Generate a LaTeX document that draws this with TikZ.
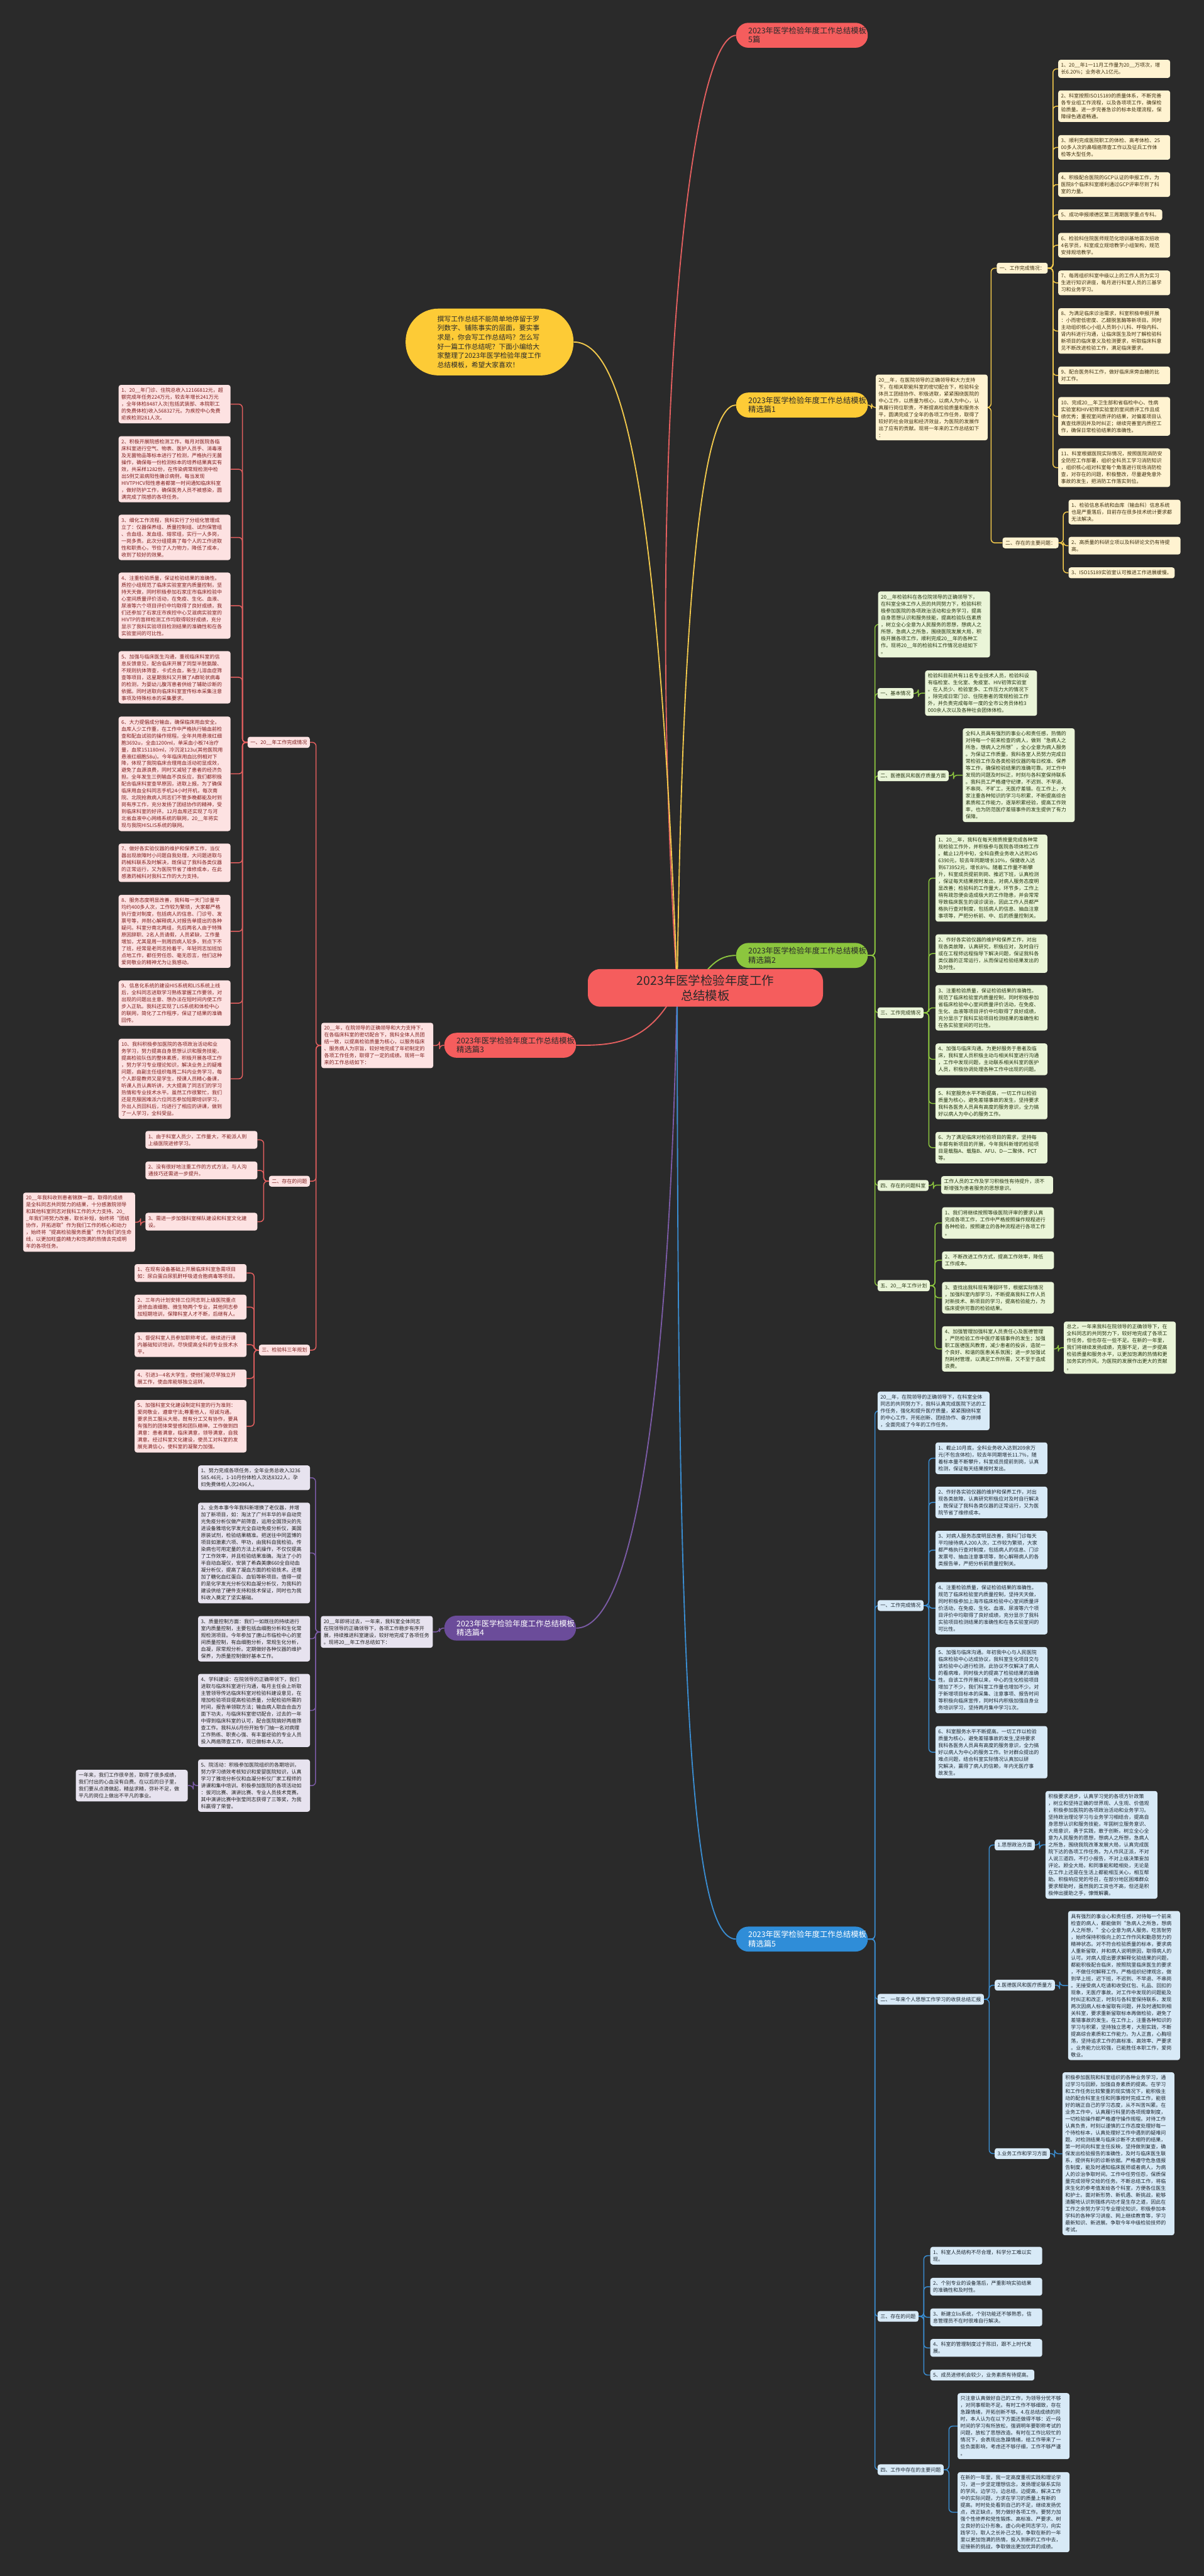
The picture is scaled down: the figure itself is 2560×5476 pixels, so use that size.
\documentclass[tikz,border=0pt]{standalone}
\usepackage{fontspec}
\setmainfont{Noto Sans CJK SC}
\pgfdeclarelayer{bgl}\pgfdeclarelayer{lnl}\pgfsetlayers{bgl,lnl,main}
\definecolor{bgc}{HTML}{2A2A2A}
\definecolor{cred}{HTML}{F55D5D}
\definecolor{cyel}{HTML}{FDCB36}
\definecolor{cgrn}{HTML}{8CC63E}
\definecolor{cpur}{HTML}{6B4C9A}
\definecolor{cblu}{HTML}{2F8DD8}
\definecolor{lred}{HTML}{E35F5F}
\definecolor{lyel}{HTML}{F2C94C}
\definecolor{lgrn}{HTML}{8DC63F}
\definecolor{lpur}{HTML}{7B5BA6}
\definecolor{lblu}{HTML}{3A8DD1}
\definecolor{fyel}{HTML}{FFF3D1}
\definecolor{tyel}{HTML}{3D3010}
\definecolor{fgrn}{HTML}{EAF5D8}
\definecolor{tgrn}{HTML}{24330F}
\definecolor{fred}{HTML}{FDE2E2}
\definecolor{tred}{HTML}{7E1D1D}
\definecolor{fpur}{HTML}{E7E3EF}
\definecolor{tpur}{HTML}{222222}
\definecolor{fblu}{HTML}{D8EAF7}
\definecolor{tblu}{HTML}{1C2630}
\definecolor{tdark}{HTML}{2A2A2A}
\newcommand\fsb{\fontsize{10.7}{14.7}\selectfont}
\newcommand\fsp{\fontsize{16.5}{19}\selectfont}
\tikzset{
 bx/.style={rounded corners=5pt, inner xsep=6pt, inner ysep=6.5pt, align=left, font=\fsb},
 tb/.style={bx, text width=226pt, anchor=north west},
 lab/.style={bx},
 bxY/.style={fill=fyel, text=tyel},
 bxG/.style={fill=fgrn, text=tgrn},
 bxR/.style={fill=fred, text=tred},
 bxP/.style={fill=fpur, text=tpur},
 bxB/.style={fill=fblu, text=tblu},
 pill/.style={rounded corners=26pt, minimum height=53pt, inner xsep=26pt, inner ysep=8pt, align=left, font=\fsp, text width=228pt},
 lnY/.style={draw=lyel, line width=2pt, rounded corners=8pt},
 lnG/.style={draw=lgrn, line width=2pt, rounded corners=8pt},
 lnR/.style={draw=lred, line width=2pt, rounded corners=8pt},
 lnP/.style={draw=lpur, line width=2pt, rounded corners=8pt},
 lnB/.style={draw=lblu, line width=2pt, rounded corners=8pt},
}
\begin{document}
\begin{tikzpicture}[x=1pt,y=-1pt]
\useasboundingbox (0,0) rectangle (2560,5476);
\begin{pgfonlayer}{bgl}\fill[bgc] (0,0) rectangle (2560,5476);\end{pgfonlayer}

% ---------- root and main branches ----------
\node[fill=cred, text=tdark, rounded corners=26pt, minimum width=500pt, minimum height=80pt, align=center, font=\fontsize{26}{32}\selectfont] (root) at (1500,2100) {2023年医学检验年度工作\\总结模板};
\coordinate (rootc) at (1440,2100);
\node[pill, fill=cred, text=tdark, anchor=west] (p5) at (1565,75) {2023年医学检验年度工作总结模板\\5篇};
\node[pill, fill=cyel, text=tdark, anchor=west] (p1) at (1565,861) {2023年医学检验年度工作总结模板\\精选篇1};
\node[pill, fill=cgrn, text=tdark, anchor=west] (p2) at (1565,2031) {2023年医学检验年度工作总结模板\\精选篇2};
\node[pill, fill=cred, text=tdark, anchor=east] (p3) at (1225,2222) {2023年医学检验年度工作总结模板\\精选篇3};
\node[pill, fill=cpur, text=white, anchor=east] (p4) at (1225,3461) {2023年医学检验年度工作总结模板\\精选篇4};
\node[pill, fill=cblu, text=white, anchor=west] (p6) at (1565,4122) {2023年医学检验年度工作总结模板\\精选篇5};
\node[fill=cyel, text=tdark, rounded corners=70pt, minimum width=357pt, minimum height=142pt, text width=222pt, align=left, font=\fontsize{14.5}{19.5}\selectfont] (bub) at (1041,727) {撰写工作总结不能简单地停留于罗\\列数字、铺陈事实的层面，要实事\\求是，你会写工作总结吗？怎么写\\好一篇工作总结呢？下面小编给大\\家整理了2023年医学检验年度工作\\总结模板，希望大家喜欢！};

% ---------- yellow branch (精选篇1) ----------
\node[tb,bxY] (yi) at (1862,796) {20\_\_年，在医院领导的正确领导和大力支持\\下，在相关职能科室的密切配合下，检验科全\\体员工团结协作、积极进取，紧紧围绕医院的\\中心工作，以质量为核心，以病人为中心，认\\真履行岗位职责，不断提高检验质量和服务水\\平，圆满完成了全年的各项工作任务，取得了\\较好的社会效益和经济效益，为医院的发展作\\出了应有的贡献。现将一年来的工作总结如下\\：};
\node[lab,bxY,anchor=east] (yl1) at (2228,570) {一、工作完成情况：};
\node[lab,bxY,anchor=east] (yl2) at (2251,1154) {二、存在的主要问题：};
\node[tb,bxY] (y1) at (2250,127) {1、20\_\_年1一11月工作量为20\_\_万项次，增\\长6.20\%；业务收入1亿元。};
\node[tb,bxY] (y2) at (2250,192) {2、科室按照ISO15189的质量体系，不断完善\\各专业组工作流程，以及各项项工作，确保检\\验质量。进一步完善急诊的标本处理流程，保\\障绿色通道畅通。};
\node[tb,bxY] (y3) at (2250,287) {3、顺利完成医院职工的体检、高考体检、25\\00多人次的鼻咽癌筛查工作以及征兵工作体\\检等大型任务。};
\node[tb,bxY] (y4) at (2250,366) {4、积极配合医院的GCP认证的申报工作，为\\医院8个临床科室顺利通过GCP评审尽到了科\\室的力量。};
\node[lab,bxY,anchor=north west] (y5) at (2250,445) {5、成功申报顺德区第三周期医学重点专科。};
\node[tb,bxY] (y6) at (2250,495) {6、检验科住院医师规范化培训基地首次招收\\4名学员，科室成立规培教学小组架构，规范\\安排规培教学。};
\node[tb,bxY] (y7) at (2250,575) {7、每周组织科室中级以上的工作人员为实习\\生进行知识讲座，每月进行科室人员的三基学\\习和业务学习。};
\node[tb,bxY] (y8) at (2250,655) {8、为满足临床诊治需求，科室积极申报开展\\：小而密低密度、乙醛脱氢酶等新项目。同时\\主动组织核心小组人员到小儿科、呼吸内科、\\肾内科进行沟通，让临床医生及时了解检验科\\新项目的临床意义及检测要求，听取临床科意\\见不断改进检验工作，满足临床要求。};
\node[tb,bxY] (y9) at (2250,779) {9、配合医务科工作，做好临床床旁血糖的比\\对工作。};
\node[tb,bxY] (y10) at (2250,844) {10、完成20\_\_年卫生部和省临检中心、性病\\实验室和HIV初筛实验室的室间质评工作且成\\绩优秀；重视室间质评的结果，对偏差项目认\\真查找原因并及时纠正；继续完善室内质控工\\作，确保日常检验结果的准确性。};
\node[tb,bxY] (y11) at (2250,953) {11、科室根据医院实际情况，按照医院消防安\\全防控工作部署，组织全科员工学习消防知识\\，组织核心组对科室每个角落进行现场消防检\\查，对存在的问题，积极整改，尽量避免意外\\事故的发生，把消防工作落实到位。};
\node[tb,bxY] (yq1) at (2272,1062) {1、检验信息系统和血库（输血科）信息系统\\也是严重落后，目前存在很多技术统计要求都\\无法解决。};
\node[tb,bxY] (yq2) at (2272,1141) {2、高质量的科研立项以及科研论文仍有待提\\高。};
\node[lab,bxY,anchor=north west] (yq3) at (2272,1206) {3、ISO15189实验室认可推进工作进展缓慢。};

% ---------- green branch (精选篇2) ----------
\node[tb,bxG] (gi) at (1867,1257) {20\_\_年检验科在各位院领导的正确领导下，\\在科室全体工作人员的共同努力下，检验科积\\极参加医院的各项政治活动和业务学习，提高\\自身思想认识和服务技能，提高检验队伍素质\\，树立全心全意为人民服务的思想，想病人之\\所想，急病人之所急，围绕医院发展大局，积\\极开展各项工作，顺利完成20\_\_年的各种工\\作。现将20\_\_年的检验科工作情况总结如下\\。};
\node[lab,bxG,anchor=west] (gl1) at (1866,1474) {一、基本情况};
\node[tb,bxG] (gc1) at (1967,1425) {检验科目前共有11名专业技术人员，检验科设\\有临检室、生化室、免疫室、HIV初筛实验室\\。在人员少、检验室多、工作压力大的情况下\\，除完成日常门诊、住院患者的常规检验工作\\外，并负责完成每年一度的全市公务员体检3\\000余人次以及各种社会团体体检。};
\node[lab,bxG,anchor=west] (gl2) at (1866,1649) {二、医德医风和医疗质量方面};
\node[tb,bxG] (gc2) at (2047,1548) {全科人员具有强烈的事业心和责任感，热情的\\对待每一个前来检查的病人，做到“急病人之\\所急，想病人之所想”，全心全意为病人服务\\。为保证工作质量，我科各室人员努力完成日\\常检验工作及各类检验仪器的每日校准、保养\\等工作，确保检验结果的准确可靠。对工作中\\发现的问题及时纠正，时刻与各科室保持联系\\。我科员工严格遵守纪律，不迟到、不早退、\\不串岗、不旷工，无医疗差错。在工作上，大\\家注重各种知识的学习与积累，不断提高综合\\素质和工作能力，逐渐积累经验，提高工作效\\率，也为防范医疗差错事件的发生提供了有力\\保障。};
\node[lab,bxG,anchor=west] (gl3) at (1866,2153) {三、工作完成情况};
\node[tb,bxG] (g1) at (1989,1774) {1、20\_\_年，我科在每天按质按量完成各种常\\规检验工作外，并积极参与医院各项体检工作\\。截止12月中旬，全科自费业务收入达到245\\6390元，较去年同期增长10\%，保健收入达\\到673952元，增长8\%。随着工作量不断攀\\升，科室成员提前到岗、推迟下班，认真检测\\，保证每天结果按时发出，对病人服务态度明\\显改善；检验科的工作量大，环节多，工作上\\稍有疏忽便会造成极大的工作隐患，并会常常\\导致临床医生的误诊误治，因此工作人员都严\\格执行查对制度，包括病人的信息、抽血注意\\事项等，严把分析前、中、后的质量控制关。};
\node[tb,bxG] (g2) at (1989,1986) {2、作好各实验仪器的维护和保养工作，对出\\现各类故障，认真研究，积极应对，及时自行\\或在工程师远程指导下解决问题，保证我科各\\类仪器的正常运行，从而保证检验结果发出的\\及时性。};
\node[tb,bxG] (g3) at (1989,2094) {3、注重检验质量，保证检验结果的准确性。\\规范了临床检验室内质量控制，同时积极参加\\省临床检验中心室间质量评价活动，在免疫、\\生化、血液等项目评价中均取得了良好成绩，\\充分显示了我科实验项目检测结果的准确性和\\在各实验室间的可比性。};
\node[tb,bxG] (g4) at (1989,2218) {4、加强与临床沟通。为更好服务于患者及临\\床，我科室人员积极主动与相关科室进行沟通\\，工作中发现问题，主动联系相关科室的医护\\人员，积极协调处理各种工作中出现的问题。};
\node[tb,bxG] (g5) at (1989,2312) {5、科室服务水平不断提高，一切工作以检验\\质量为核心，避免差错事故的发生，坚持要求\\我科各医务人员具有高度的服务意识，全力搞\\好以病人为中心的服务工作。};
\node[tb,bxG] (g6) at (1989,2406) {6、为了满足临床对检验项目的需求，坚持每\\年都有新项目的开展，今年我科新增的检验项\\目是载脂A、载脂B、AFU、D—二聚体、PCT\\等。};
\node[lab,bxG,anchor=west] (gl4) at (1866,2520) {四、存在的问题科室};
\node[tb,bxG] (gc4) at (2001,2500) {工作人员的工作及学习积极性有待提升，须不\\断增强为患者服务的思想意识。};
\node[lab,bxG,anchor=west] (gl5) at (1866,2733) {五、20\_\_年工作计划};
\node[tb,bxG] (h1) at (2003,2566) {1、我们将继续按照等级医院评审的要求认真\\完成各项工作，工作中严格按照操作规程进行\\各种检验，按照建立的各种流程进行各项工作\\。};
\node[tb,bxG] (h2) at (2003,2660) {2、不断改进工作方式，提高工作效率，降低\\工作成本。};
\node[tb,bxG] (h3) at (2003,2725) {3、查找出我科现有薄弱环节，根据实际情况\\，加强科室内部学习，不断提高我科工作人员\\对新技术、新项目的学习，提高检验能力，为\\临床提供可靠的检验结果。};
\node[tb,bxG] (h4) at (2003,2819) {4、加强管理加强科室人员责任心及医德管理\\，严防检验工作中医疗差错事件的发生；加强\\职工医德医风教育，减少患者的投诉，造就一\\个良好、和谐的医患关系氛围；进一步加强试\\剂耗材管理，以满足工作所需，又不至于造成\\浪费。};
\node[tb,bxG] (gx) at (2262,2809) {总之，一年来我科在院领导的正确领导下，在\\全科同志的共同努力下，较好地完成了各项工\\作任务，但也存在一些不足。在新的一年里，\\我们将继续发扬成绩，克服不足，进一步提高\\检验质量和服务水平，以更加饱满的热情和更\\加务实的作风，为医院的发展作出更大的贡献\\。};

% ---------- red left branch (精选篇3) ----------
\node[tb,bxR] (ri) at (683,2174) {20\_\_年，在院领导的正确领导和大力支持下，\\在各临床科室的密切配合下，我科全体人员团\\结一致，以提高检验质量为核心，以服务临床\\、服务病人为宗旨，较好地完成了年初制定的\\各项工作任务，取得了一定的成绩。现将一年\\来的工作总结如下：};
\node[lab,bxR,anchor=east] (rl1) at (659,1578) {一、20\_\_年工作完成情况};
\node[tb,bxR] (r1) at (252,818) {1、20\_\_年门诊、住院总收入12166812元，超\\额完成年任务224万元，较去年增长241万元\\，全年体检8487人次(包括武装部、本院职工\\的免费体检)收入568327元。为疾控中心免费\\疟疾检测281人次。};
\node[tb,bxR] (r2) at (252,927) {2、积极开展院感检测工作。每月对医院各临\\床科室进行空气、物表、医护人员手、消毒液\\及无菌物品等标本进行了检测，严格执行无菌\\操作，确保每一份检测标本的培养结果真实有\\效，共采样1282份，在传染病常规检测中检\\出5例艾滋病阳性确诊病例，每当发现\\HIVTPHCV阳性患者都第一时间通知临床科室\\，做好防护工作，确保医务人员不被感染，圆\\满完成了院感的各项任务。};
\node[tb,bxR] (r3) at (252,1094) {3、细化工作流程，我科实行了分组化管理成\\立了：仪器保养组、质量控制组、试剂保管组\\、合血组、发血组、熔浆组，实行一人多岗，\\一岗多责。此次分组提高了每个人的工作进取\\性和职责心，节俭了人力物力，降低了成本，\\收到了较好的效果。};
\node[tb,bxR] (r4) at (252,1217) {4、注重检验质量，保证检验结果的准确性。\\质控小组规范了临床实验室室内质量控制，坚\\持天天做，同时积极参加石家庄市临床检验中\\心室间质量评价活动，在免疫、生化、血液、\\尿液等六个项目评价中均取得了良好成绩，我\\们还参加了石家庄市疾控中心艾滋病实验室的\\HIVTP的盲样检测工作均取得较好成绩，充分\\显示了我科实验项目检测结果的准确性和在各\\实验室间的可比性。};
\node[tb,bxR] (r5) at (252,1384) {5、加强与临床医生沟通，重视临床科室的信\\息反馈意见，配合临床开展了同型半胱氨酸、\\不规则抗体筛查，卡式合血，新生儿溶血症筛\\查等项目，这星期我科又开展了A群轮状病毒\\的检测，为婴幼儿腹泻患者供给了辅助诊断的\\依据。同时进取向临床科室宣传标本采集注意\\事项及特殊标本的采集要求。};
\node[tb,bxR] (r6) at (252,1523) {6、大力提倡成分输血，确保临床用血安全。\\血库人少工作重，在工作中严格执行输血前检\\查和配血试验的操作规程。全年共用悬液红细\\胞3692u，全血1200ml，单采血小板74治疗\\量，血浆151180ml，冷沉淀123u(其他医院用\\悬液红细胞58u)。今年临床用血比例相对下\\降，体现了我院临床合理用血活动初显成效，\\避免了血源浪费，同时又减轻了患者的经济负\\担。全年发生三例输血不良反应，我们都积极\\配合临床科室查早原因，进取上报。为了确保\\临床用血全科同志手机24小时开机，每次南\\院、北院抢救病人同志们不管多晚都能及时到\\岗有序工作，充分发扬了团结协作的精神，受\\到临床科室的好评。12月血库还实现了与河\\北省血液中心网络系统的联网，20\_\_年将实\\现与我院HISLIS系统的联网。};
\node[tb,bxR] (r7) at (252,1793) {7、做好各实验仪器的维护和保养工作，当仪\\器出现故障时小问题自我处理，大问题进取与\\药械科联系及时解决，既保证了我科各类仪器\\的正常运行，又为医院节省了维修成本，在此\\感激药械科对我科工作的大力支持。};
\node[tb,bxR] (r8) at (252,1902) {8、服务态度明显改善，我科每一天门诊量平\\均约400多人次，工作较为繁琐，大家都严格\\执行查对制度，包括病人的信息、门诊号、发\\票号等，并耐心解释病人对报告单提出的各种\\疑问。科室分南北两组，先后两名人由于特殊\\原因辞职、2名人员请假，人员紧缺，工作量\\增加，尤其是周一到周四病人较多，到点下不\\了班，经常是老同志抢着干，年轻同志加班加\\点地工作，都任劳任怨、毫无怨言，他们这种\\爱岗敬业的精神尤为让我感动。};
\node[tb,bxR] (r9) at (252,2084) {9、信息化系统的建设HIS系统和LIS系统上线\\后，全科同志进取学习熟练掌握工作要领，对\\出现的问题出主意、想办法在短时间内使工作\\步入正轨。我科还实现了LIS系统和体检中心\\的联网，简化了工作程序，保证了结果的准确\\回传。};
\node[tb,bxR] (r10) at (252,2208) {10、我科积极参加医院的各项政治活动和业\\务学习，努力提高自身思想认识和服务技能，\\提高检验队伍的整体素质，积极开展各项工作\\，努力学习专业理论知识，解决业务上的疑难\\问题，由副主任组织每周二科内业务学习，每\\个人即是教师又是学生，授课人员精心备课，\\听课人员认真听讲，大大提高了同志们的学习\\热情和专业技术水平。虽然工作很繁忙，我们\\还是克服困难派六位同志参加短期培训学习，\\外出人员回科后，均进行了相应的讲课，做到\\了一人学习，全科受益。};
\node[lab,bxR,anchor=east] (rl2) at (659,2511) {二、存在的问题};
\node[tb,bxR] (s1) at (309,2404) {1、由于科室人员少，工作量大，不能派人到\\上级医院进修学习。};
\node[tb,bxR] (s2) at (309,2469) {2、没有很好地注重工作的方式方法，与人沟\\通技巧还需进一步提升。};
\node[tb,bxR] (s3) at (309,2578) {3、需进一步加强科室梯队建设和科室文化建\\设。};
\node[tb,bxR] (rbox) at (49,2535) {20\_\_年我科收到患者锦旗一面，取得的成绩\\是全科同志共同努力的结果，十分感激院领导\\和其他科室同志对我科工作的大力支持。20\_\\\_年我们将努力改善，取长补短，始终将“团结\\协作，开拓进取”作为我们工作的核心和动力\\，始终将“提高检验服务质量”作为我们的生命\\线，以更加旺盛的精力和饱满的热情去完成明\\年的各项任务。};
\node[lab,bxR,anchor=east] (rl3) at (659,2870) {三、检验科三年规划};
\node[tb,bxR] (t1) at (286,2687) {1、在现有设备基础上开展临床科室急需项目\\如：尿白蛋白尿肌酐呼吸道合胞病毒等项目。};
\node[tb,bxR] (t2) at (286,2752) {2、三年内计划安排三位同志到上级医院重点\\进修血液细胞、微生物两个专业，其他同志参\\加短期培训，保障科室人才不断，后继有人。};
\node[tb,bxR] (t3) at (286,2832) {3、督促科室人员参加职称考试，继续进行课\\内基础知识培训，尽快提高全科的专业技术水\\平。};
\node[tb,bxR] (t4) at (286,2911) {4、引进3—4名大学生，使他们能尽早独立开\\展工作，使血库能够独立运转。};
\node[tb,bxR] (t5) at (286,2976) {5、加强科室文化建设制定科室的行为准则：\\爱岗敬业，遵章守法;尊重他人，坦诚沟通。\\要求员工服从大局，既有分工又有协作，要具\\有强烈的团体荣誉感和团队精神。工作做到四\\满意：患者满意，临床满意，领导满意，自我\\满意。经过科室文化建设，使员工对科室的发\\展充满信心，使科室的凝聚力加强。};

% ---------- purple branch (精选篇4) ----------
\node[tb,bxP] (vi) at (682,3435) {20\_\_年即将过去，一年来，我科室全体同志\\在院领导的正确领导下，各项工作稳步有序开\\展，持续推进科室建设，较好地完成了各项任务\\。现将20\_\_年工作总结如下：};
\node[tb,bxP] (v1) at (421,3115) {1、努力完成各项任务，全年业务总收入3236\\585.46元，1-10月份体检人次达8322人，孕\\妇免费体检人次2496人。};
\node[tb,bxP] (v2) at (421,3194) {2、业务本事今年我科新增换了老仪器，并增\\加了新项目，如：淘汰了广州丰华的半自动荧\\光免疫分析仪做产前筛查，运用全国顶尖的先\\进设备雅培化学发光全自动免疫分析仪，美国\\原装试剂，检验结果精准。把送往中同蓝博的\\项目如激素六项、甲功，由我科自我检验。传\\染病也可用定量的方法上机操作，不仅仅提高\\了工作效率，并且检验结果准确。淘汰了小的\\半自动血凝仪，安装了希森美康660全自动血\\凝分析仪，提高了凝血方面的检验技术。还增\\加了糖化血红蛋白、血铅等新项目。值得一提\\的是化学发光分析仪和血凝分析仪，为我科的\\建设供给了硬件支持和技术保证，同时也为我\\科收入奠定了坚实基础。};
\node[tb,bxP] (v3) at (421,3435) {3、质量控制方面：我们一如既往的持续进行\\室内质量控制，主要包括血细胞分析和生化常\\规检测项目。今年参加了唐山市临检中心的室\\间质量控制，有血细胞分析，常规生化分析，\\血凝，尿常规分析。定期做好各种仪器的维护\\保养，为质量控制做好基本工作。};
\node[tb,bxP] (v4) at (421,3558) {4、学科建设：在院领导的正确带领下，我们\\进取与临床科室进行沟通，每月主任会上听取\\主管领导传达临床科室对检验科建设意见，在\\增加检验项目提高检验质量，分配检验所需的\\时间，报告单领取方法；输血病人取血合血方\\面下功夫，与临床科室密切配合，过去的一年\\中得到临床科室的认可，配合医院搞好两癌筛\\查工作。我科从6月份开始专门抽一名对病理\\工作熟练、职责心强、有丰富经验的专业人员\\投入两癌筛查工作，现已做标本人次。};
\node[tb,bxP] (v5) at (421,3740) {5、院活动：积极参加医院组织的各期培训，\\努力学习绩效考核知识和爱婴医院知识，认真\\学习了雅培分析仪和血凝分析仪厂家工程师的\\讲课和集中培训。积极参加医院的各项活动如\\：拔河比赛、演讲比赛、专业人员技术竞赛。\\其中演讲比赛中张莹同志获得了三等奖，为我\\科赢得了荣誉。};
\node[tb,bxP] (vc) at (161,3762) {一年来，我们工作很辛苦，取得了很多成绩，\\我们付出的心血没有白费。在以后的日子里，\\我们要从点滴做起，精益求精，弥补不足，做\\平凡的岗位上做出不平凡的事业。};

% ---------- blue branch (精选篇5) ----------
\node[tb,bxB] (bi) at (1866,2958) {20\_\_年，在院领导的正确领导下，在科室全体\\同志的共同努力下，我科认真完成医院下达的工\\作任务，强化和提升医疗质量，紧紧围绕科室\\的中心工作，开拓创新、团结协作、奋力拼搏\\，全面完成了今年的工作任务。};
\node[lab,bxB,anchor=west] (bl1) at (1866,3413) {一、工作完成情况};
\node[tb,bxB] (b1) at (1989,3066) {1、截止10月底，全科业务收入达到209余万\\元(不包含体检)，较去年同期增长11.7\%，随\\着标本量不断攀升，科室成员提前到岗，认真\\检测，保证每天结果按时发出。};
\node[tb,bxB] (b2) at (1989,3160) {2、作好各实验仪器的维护和保养工作，对出\\现各类故障，认真研究积极应对及时自行解决\\，既保证了我科各类仪器的正常运行，又为医\\院节省了维修成本。};
\node[tb,bxB] (b3) at (1989,3254) {3、对病人服务态度明显改善，我科门诊每天\\平均接待病人200人次，工作较为繁琐，大家\\都严格执行查对制度，包括病人的信息、门诊\\发票号、抽血注意事项等，耐心解释病人的各\\类报告单，严把分析前质量控制关。};
\node[tb,bxB] (b4) at (1989,3363) {4、注重检验质量，保证检验结果的准确性。\\规范了临床检验室内质量控制，坚持天天做，\\同时积极参加上海市临床检验中心室间质量评\\价活动，在免疫、生化、血液、尿液等六个项\\目评价中均取得了良好成绩，充分显示了我科\\实验项目检测结果的准确性和在各实验室间的\\可比性。};
\node[tb,bxB] (b5) at (1989,3501) {5、加强与临床沟通。年初我中心与人民医院\\临床检验中心达成协议，我科室生化项目交与\\该检验中心进行检测，此协议不仅解决了病人\\的看病难，同时极大的提高了检验结果的准确\\性。自该工作开展以来，中心的生化检验项目\\增加了不少，我们科室工作量也增加不少。对\\于新增项目标本的采集、注意事项、报告时间\\等积极向临床宣传，同时科内积极加强自身业\\务培训学习，坚持两月集中学习1次。};
\node[tb,bxB] (b6) at (1989,3669) {6、科室服务水平不断提高。一切工作以检验\\质量为核心，避免差错事故的发生,坚持要求\\我科各医务人员具有高度的服务意识，全力搞\\好以病人为中心的服务工作。针对群众提出的\\难点问题，结合科室实际情况认真加以研\\究解决，赢得了病人的信赖，年内无医疗事\\故发生。};
\node[lab,bxB,anchor=west] (bl2) at (1866,4250) {二、一年来个人思想工作学习的收获总结汇报};
\node[lab,bxB,anchor=west] (bm1) at (2115,3922) {1.思想政治方面};
\node[tb,bxB] (bn1) at (2223,3807) {积极要求进步，认真学习党的各项方针政策\\，树立和坚持正确的世界观、人生观、价值观\\，积极参加医院的各项政治活动和业务学习。\\坚持政治理论学习与业务学习相结合，提高自\\身思想认识和服务技能，牢固树立服务意识、\\大局意识，勇于实践，敢于创新。树立全心全\\意为人民服务的思想，想病人之所想，急病人\\之所急，围绕我院改革发展大局，认真完成医\\院下达的各项工作任务。为人作风正派，不对\\人说三道四，不打小报告，不对上级决策妄加\\评论。顾全大局，和同事能和睦相处，无论是\\在工作上还是在生活上都能相互关心，相互帮\\助。积极响应党的号召，在部分地区困难群众\\要求帮助时，虽然我的工资也不高，但还是积\\极伸出援助之手，慷慨解囊。};
\node[lab,bxB,anchor=west] (bm2) at (2115,4220) {2.医德医风和医疗质量方};
\node[tb,bxB] (bn2) at (2271,4062) {具有强烈的事业心和责任感，对待每一个前来\\检查的病人，都能做到“急病人之所急，想病\\人之所想，”全心全意为病人服务。吃苦耐劳\\，始终保持积极向上的工作作风和勤恳努力的\\精神状态。对不符合检验质量的标本，要求病\\人重新留取，并和病人说明原因，取得病人的\\认可。对病人提出要求解释化验结果的问题，\\都能积极配合临床，按照院里临床医生的要求\\，不做任何解释工作。严格组织纪律观念，做\\到早上班，迟下班，不迟到、不早退、不串岗\\。无接受病人吃请和收受红包、礼品、回扣的\\现象，无医疗事故。对工作中发现的问题能及\\时纠正和改正，时刻与各科室保持联系，发现\\两次因病人标本留取有问题，并及时通知到相\\关科室，要求重新留取标本再做检验，避免了\\差错事故的发生。在工作上，注重各种知识的\\学习与积累，坚持独立思考，大胆实践，不断\\提高综合素质和工作能力。为人正直，心胸坦\\荡，坚持追求工作的高标准、高效率、严要求\\。业务能力比较强，已能胜任本职工作，爱岗\\敬业。};
\node[lab,bxB,anchor=west] (bm3) at (2115,4578) {3.业务工作和学习方面};
\node[tb,bxB] (bn3) at (2259,4405) {积极参加医院和科室组织的各种业务学习，通\\过学习与回顾，加强自身素质的提高。在学习\\和工作任务比较繁重的现实情况下，能积极主\\动的配合科室主任和同事按时完成工作，能很\\好的端正自己的学习态度，从不叫苦叫累。在\\业务工作中，认真履行科里的各项规章制度，\\一切检验操作都严格遵守操作规程。对待工作\\认真负责，时刻以谨慎的工作态度处理好每一\\个待检标本，认真处理好工作中遇到的疑难问\\题。对检测结果与临床诊断不太相符的结果，\\第一时间向科室主任反映，坚持做到复查，确\\保发出检验报告的准确性，及时与临床医生联\\系，提供有利的诊断依据。严格遵守危急值报\\告制度，能及时通知临床医师或者病人，为病\\人的诊治争取时间。工作中任劳任怨，保质保\\量完成领导交给的任务。不断总结工作，将临\\床生化的参考值发给各个科室，方便各位医生\\和护士。面对新形势、新机遇、新挑战，能够\\清醒地认识到强练内功才是生存之道，因此在\\工作之余努力学习专业理论知识，积极参加本\\学科的各种学习讲座、网上继续教育等，学习\\最新知识、新进展。争取今年中级检验技师的\\考试。};
\node[lab,bxB,anchor=west] (bl3) at (1866,4924) {三、存在的问题};
\node[tb,bxB] (c1) at (1978,4776) {1、科室人员结构不尽合理，科学分工难以实\\现。};
\node[tb,bxB] (c2) at (1978,4842) {2、个别专业的设备落后，严重影响实验结果\\的准确性和及时性。};
\node[tb,bxB] (c3) at (1978,4907) {3、新建立lis系统，个别功能还不够熟悉，信\\息管理员不在时很难自行解决。};
\node[tb,bxB] (c4) at (1978,4972) {4、科室的管理制度过于陈旧，跟不上时代发\\展。};
\node[lab,bxB,anchor=north west] (c5) at (1978,5037) {5、成员进修机会较少，业务素质有待提高。};
\node[lab,bxB,anchor=west] (bl4) at (1866,5250) {四、工作中存在的主要问题};
\node[tb,bxB] (d1) at (2036,5087) {只注意认真做好自己的工作，为领导分忧不够\\，对同事帮助不足。有时工作不够细致，存在\\急躁情绪，开拓创新不够。4.在总结成绩的同\\时，本人认为在以下方面还做得不够：近一段\\时间的学习有所放松，强调明年要职称考试的\\问题，放松了思想改造。有时在工作比较忙的\\情况下，会表现出急躁情绪，给工作带来了一\\些负面影响，考虑还不够仔细，工作不够严谨\\。};
\node[tb,bxB] (d2) at (2036,5255) {在新的一年里，我一定高度重视实践和理论学\\习，进一步坚定理想信念，发扬理论联系实际\\的学风，边学习，边总结，边提高，解决工作\\中的实际问题，力求在学习的质量上有新的\\提高。时时处处看到自己的不足，继续发扬优\\点，改正缺点，努力做好各项工作。要努力加\\强个性修养和党性锻炼、高标准、严要求、树\\立良好的公仆形象。虚心向老同志学习，向实\\践学习，取人之长补己之短，争取在新的一年\\里以更加饱满的热情，投入到新的工作中去，\\迎接新的挑战，争取做出更加优异的成绩。};

% ---------- connectors ----------
\begin{pgfonlayer}{lnl}
\draw[draw=lred, line width=2.5pt] (rootc) .. controls (1370,1000) and (1460,80) .. (p5.west);
\draw[draw=lyel, line width=2.5pt] (rootc) .. controls (1450,1300) and (1490,861) .. (p1.west);
\draw[draw=lyel, line width=2.5pt] (rootc) .. controls (1400,1000) and (1320,727) .. (bub.east);
\draw[draw=lgrn, line width=2.5pt] (rootc) .. controls (1500,2100) and (1500,2031) .. (p2.west);
\draw[draw=lred, line width=2.5pt] (rootc) .. controls (1380,2222) and (1300,2222) .. (p3.east);
\draw[draw=lpur, line width=2.5pt] (rootc) .. controls (1420,3100) and (1330,3461) .. (p4.east);
\draw[draw=lblu, line width=2.5pt] (rootc) .. controls (1440,3600) and (1470,4122) .. (p6.west);
% yellow
\draw[lnY] (p1.east) -- ++(8,0) |- (yi.west);
\foreach \c in {yl1,yl2} \draw[lnY] (yi.east) -- ++(7,0) |- (\c.west);
\foreach \c in {y1,y2,y3,y4,y5,y6,y7,y8,y9,y10,y11} \draw[lnY] (yl1.east) -- ++(11,0) |- (\c.west);
\foreach \c in {yq1,yq2,yq3} \draw[lnY] (yl2.east) -- ++(10,0) |- (\c.west);
% green
\foreach \c in {gi,gl1,gl2,gl3,gl4,gl5} \draw[lnG] (p2.east) -- ++(15,0) |- (\c.west);
\draw[lnG] (gl1.east) -- ++(10,0) |- (gc1.west);
\draw[lnG] (gl2.east) -- ++(10,0) |- (gc2.west);
\draw[lnG] (gl4.east) -- ++(10,0) |- (gc4.west);
\foreach \c in {g1,g2,g3,g4,g5,g6} \draw[lnG] (gl3.east) -- ++(11,0) |- (\c.west);
\foreach \c in {h1,h2,h3,h4} \draw[lnG] (gl5.east) -- ++(11,0) |- (\c.west);
\draw[lnG] (h4.east) -- ++(9,0) |- (gx.west);
% red left
\draw[lnR] (p3.west) -- ++(-10,0) |- (ri.east);
\foreach \c in {rl1,rl2,rl3} \draw[lnR] (ri.west) -- ++(-11,0) |- (\c.east);
\foreach \c in {r1,r2,r3,r4,r5,r6,r7,r8,r9,r10} \draw[lnR] (rl1.west) -- ++(-11,0) |- (\c.east);
\foreach \c in {s1,s2,s3} \draw[lnR] (rl2.west) -- ++(-11,0) |- (\c.east);
\draw[lnR] (s3.west) -- ++(-10,0) |- (rbox.east);
\foreach \c in {t1,t2,t3,t4,t5} \draw[lnR] (rl3.west) -- ++(-10,0) |- (\c.east);
% purple
\draw[lnP] (p4.west) -- ++(-10,0) |- (vi.east);
\foreach \c in {v1,v2,v3,v4,v5} \draw[lnP] (vi.west) -- ++(-11,0) |- (\c.east);
\draw[lnP] (v5.west) -- ++(-10,0) |- (vc.east);
% blue
\foreach \c in {bi,bl1,bl2,bl3,bl4} \draw[lnB] (p6.east) -- ++(15,0) |- (\c.west);
\foreach \c in {b1,b2,b3,b4,b5,b6} \draw[lnB] (bl1.east) -- ++(11,0) |- (\c.west);
\foreach \c in {bm1,bm2,bm3} \draw[lnB] (bl2.east) -- ++(11,0) |- (\c.west);
\draw[lnB] (bm1.east) -- ++(10,0) |- (bn1.west);
\draw[lnB] (bm2.east) -- ++(10,0) |- (bn2.west);
\draw[lnB] (bm3.east) -- ++(10,0) |- (bn3.west);
\foreach \c in {c1,c2,c3,c4,c5} \draw[lnB] (bl3.east) -- ++(11,0) |- (\c.west);
\foreach \c in {d1,d2} \draw[lnB] (bl4.east) -- ++(11,0) |- (\c.west);
\end{pgfonlayer}
\end{tikzpicture}
\end{document}
